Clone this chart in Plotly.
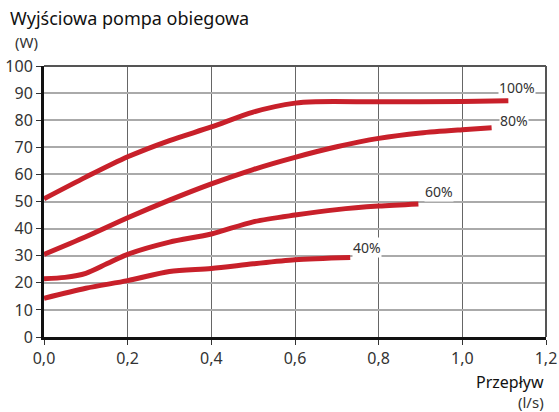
import plotly.graph_objects as go

flow_100 = [0.0, 0.1, 0.2, 0.3, 0.4, 0.5, 0.6, 0.65, 0.8, 1.0, 1.11]
power_100 = [51.0, 59.0, 66.5, 72.5, 77.5, 83.0, 86.3, 86.8, 86.8, 86.9, 87.2]
flow_80 = [0.0, 0.1, 0.2, 0.3, 0.4, 0.5, 0.6, 0.7, 0.8, 0.9, 1.0, 1.07]
power_80 = [30.5, 37.0, 44.0, 50.5, 56.5, 61.8, 66.3, 70.2, 73.3, 75.3, 76.5, 77.2]
flow_60 = [0.0, 0.05, 0.1, 0.15, 0.2, 0.3, 0.4, 0.5, 0.6, 0.7, 0.8, 0.895]
power_60 = [21.5, 22.0, 23.5, 27.0, 30.5, 35.0, 38.0, 42.5, 45.0, 47.0, 48.3, 49.1]
flow_40 = [0.0, 0.1, 0.2, 0.3, 0.4, 0.5, 0.6, 0.732]
power_40 = [14.3, 18.0, 20.8, 24.2, 25.3, 27.0, 28.5, 29.3]
series_names = ["100%", "80%", "60%", "40%"]

x_ticks = [0.0, 0.2, 0.4, 0.6, 0.8, 1.0, 1.2]
x_tick_text = ["0,0", "0,2", "0,4", "0,6", "0,8", "1,0", "1,2"]
y_ticks = [0, 10, 20, 30, 40, 50, 60, 70, 80, 90, 100]

RED = "#C8202A"
FONT = "Noto Sans"

fig = go.Figure()
for xs, ys, name in zip([flow_100, flow_80, flow_60, flow_40],
                        [power_100, power_80, power_60, power_40], series_names):
    fig.add_trace(go.Scatter(x=xs, y=ys, mode="lines", name=name,
                             line=dict(color=RED, width=5, shape="spline", smoothing=0.8),
                             showlegend=False, hoverinfo="skip"))

label_pos = [(1.13, 92.0), (1.124, 79.9), (0.945, 53.6), (0.773, 32.9)]
for (lx, ly), name in zip(label_pos, series_names):
    fig.add_annotation(x=lx, y=ly, text=name, showarrow=False, xanchor="center",
                       yanchor="middle", bgcolor="white", borderpad=0,
                       font=dict(family=FONT, size=14, color="#333333"))

fig.add_shape(type="line", xref="paper", yref="paper", x0=0, x1=1, y0=1, y1=1,
              line=dict(color="#555555", width=2))
fig.add_shape(type="line", xref="paper", yref="paper", x0=1, x1=1, y0=0, y1=1,
              line=dict(color="#555555", width=2))

fig.add_annotation(xref="paper", yref="paper", x=-0.072, y=1.177, text="Wyjściowa pompa obiegowa",
                   showarrow=False, xanchor="left", yanchor="middle",
                   font=dict(family=FONT, size=18, color="#111111"))
fig.add_annotation(xref="paper", yref="paper", x=-0.062, y=1.089, text="(W)",
                   showarrow=False, xanchor="left", yanchor="middle",
                   font=dict(family=FONT, size=15, color="#333333"))
fig.add_annotation(xref="paper", yref="paper", x=1.0, y=-0.166, text="Przepływ",
                   showarrow=False, xanchor="right", yanchor="middle",
                   font=dict(family=FONT, size=16, color="#111111"))
fig.add_annotation(xref="paper", yref="paper", x=1.0, y=-0.24, text="(l/s)",
                   showarrow=False, xanchor="right", yanchor="middle",
                   font=dict(family=FONT, size=15, color="#333333"))

fig.update_xaxes(range=[0, 1.2], tickvals=x_ticks, ticktext=x_tick_text,
                 showgrid=True, gridcolor="#666666", gridwidth=1,
                 showline=True, linecolor="#111111", linewidth=3,
                 ticks="outside", ticklen=5, tickcolor="#333333", tickwidth=1,
                 tickfont=dict(family=FONT, size=16, color="#333333"),
                 zeroline=False, automargin=False)
fig.update_yaxes(range=[0, 100], tickvals=y_ticks,
                 showgrid=True, gridcolor="#AAAAAA", gridwidth=2,
                 showline=True, linecolor="#111111", linewidth=3,
                 ticks="outside", ticklen=5, tickcolor="#333333", tickwidth=1,
                 tickfont=dict(family=FONT, size=16, color="#333333"),
                 zeroline=False, automargin=False)

fig.update_layout(width=559, height=412, margin=dict(l=44, r=13, t=66, b=75),
                  plot_bgcolor="white", paper_bgcolor="white")

fig.write_html("out.html", config={"displayModeBar": False},
               post_script="document.body.style.margin='0';document.body.style.overflow='hidden';")
